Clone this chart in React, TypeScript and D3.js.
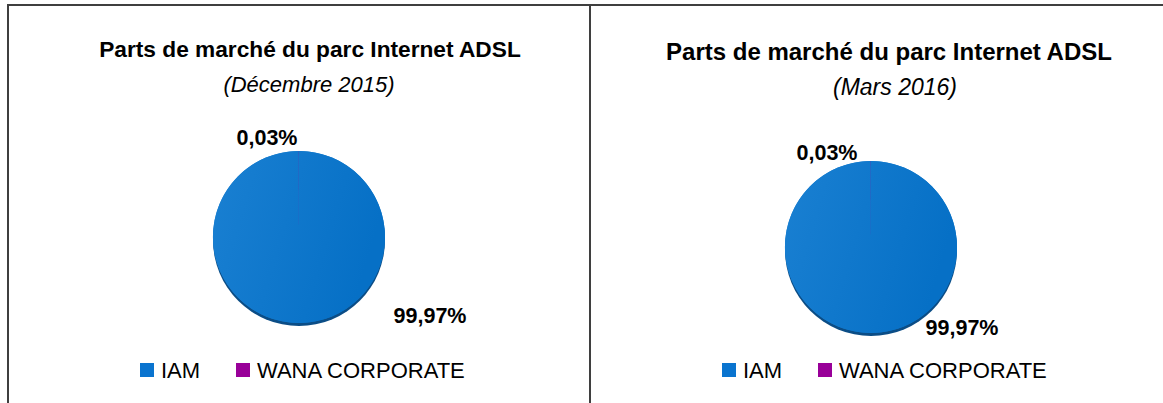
import React from "react";
import * as d3 from "d3";

const categories = ["IAM", "WANA CORPORATE"];
const colors = ["#0a74cf", "#990099"];
const valuesDec2015 = [99.97, 0.03];
const valuesMar2016 = [99.97, 0.03];
const titles = ["Parts de marché du parc Internet ADSL", "Parts de marché du parc Internet ADSL"];
const subtitles = ["(Décembre 2015)", "(Mars 2016)"];

const W = 1163;
const H = 403;
const FONT = "'Liberation Sans', Arial, sans-serif";

const fmt = (v: number) => v.toFixed(2).replace(".", ",") + "%";

type Panel = {
  values: number[];
  title: string;
  subtitle: string;
  titleX: number; titleY: number; titleSize: number;
  subX: number; subY: number; subSize: number;
  cx: number; cy: number; r: number;
  labelOffsets: [number, number][];
  labelSize: number;
  legendX: number; legendY: number; legendGap: number;
};

const panels: Panel[] = [
  {
    values: valuesDec2015, title: titles[0], subtitle: subtitles[0],
    titleX: 310, titleY: 57, titleSize: 22.7,
    subX: 309, subY: 92, subSize: 22,
    cx: 299, cy: 237, r: 86,
    labelOffsets: [[131, 86], [-32, -92]],
    labelSize: 21.5,
    legendX: 140, legendY: 363, legendGap: 96,
  },
  {
    values: valuesMar2016, title: titles[1], subtitle: subtitles[1],
    titleX: 889, titleY: 60, titleSize: 24,
    subX: 895, subY: 95, subSize: 23,
    cx: 871, cy: 247, r: 86,
    labelOffsets: [[91, 88], [-44, -87]],
    labelSize: 21.5,
    legendX: 722, legendY: 363, legendGap: 96,
  },
];

function PiePanel({ p, idx }: { p: Panel; idx: number }) {
  const pie = d3.pie<number>().sort(null).startAngle(0).endAngle(2 * Math.PI);
  const arcs = pie(p.values);
  const arc = d3.arc<d3.PieArcDatum<number>>().innerRadius(0).outerRadius(p.r);
  const gid = `g${idx}`;
  return (
    <g>
      <defs>
        <linearGradient id={gid} x1="0" y1="0" x2="1" y2="0.3">
          <stop offset="0" stopColor="#1a80d2" />
          <stop offset="1" stopColor="#0670c6" />
        </linearGradient>
      </defs>
      <text x={p.titleX} y={p.titleY} textAnchor="middle" fontFamily={FONT} fontWeight="bold" fontSize={p.titleSize} fill="#000">
        {p.title}
      </text>
      <text x={p.subX} y={p.subY} textAnchor="middle" fontFamily={FONT} fontStyle="italic" fontSize={p.subSize} fill="#000">
        {p.subtitle}
      </text>
      <g transform={`translate(${p.cx},${p.cy})`}>
        <circle cx={0} cy={3} r={p.r} fill="#0b4d86" />
        <circle cx={0} cy={0} r={p.r} fill={`url(#${gid})`} />
        {arcs.map((a, i) => (
          <path key={i} d={arc(a) || ""} fill={i === 0 ? `url(#${gid})` : colors[i]} />
        ))}
        {arcs.map((a, i) => (
          <text key={"l" + i} x={p.labelOffsets[i][0]} y={p.labelOffsets[i][1]} textAnchor="middle" fontFamily={FONT} fontWeight="bold" fontSize={p.labelSize} fill="#000">
            {fmt(a.data)}
          </text>
        ))}
      </g>
      {categories.map((c, i) => (
        <g key={c} transform={`translate(${p.legendX + i * p.legendGap},${p.legendY})`}>
          <rect x={0} y={0} width={14} height={14} fill={colors[i]} />
          <text x={21} y={14.5} fontFamily={FONT} fontSize={22} fill="#000">{c}</text>
        </g>
      ))}
    </g>
  );
}

export default function App() {
  return (
    <svg width={W} height={H} style={{ position: "absolute", left: 0, top: 0, background: "#fff" }}>
      <rect x={0} y={0} width={W} height={H} fill="#fff" />
      <line x1={8} y1={5} x2={W} y2={5} stroke="#3f3f3f" strokeWidth={2} />
      <line x1={8} y1={4} x2={8} y2={H} stroke="#3f3f3f" strokeWidth={2} />
      <line x1={590} y1={4} x2={590} y2={H} stroke="#3f3f3f" strokeWidth={2} />
      {panels.map((p, i) => (
        <PiePanel key={i} p={p} idx={i} />
      ))}
    </svg>
  );
}
